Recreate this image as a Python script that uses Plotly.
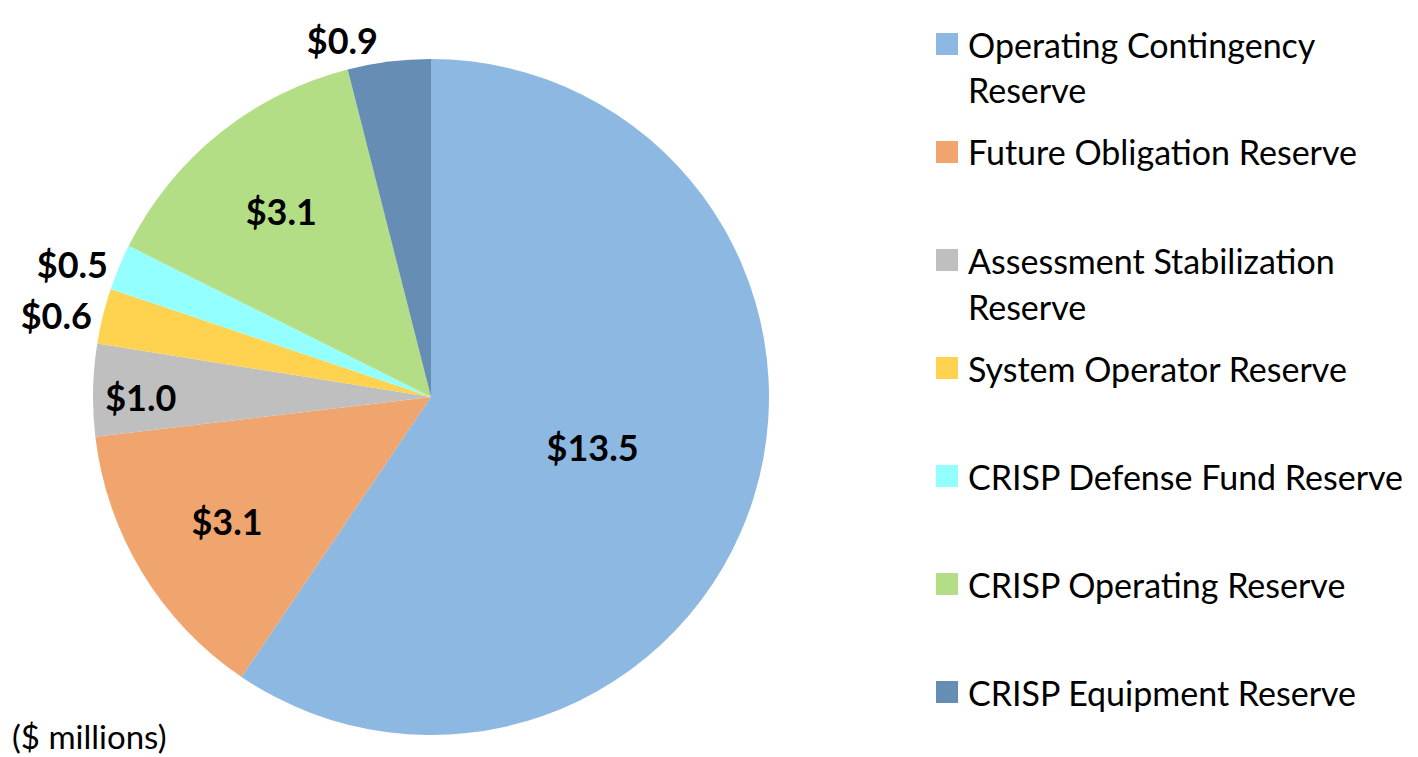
import plotly.graph_objects as go

categories = [
    "Operating Contingency Reserve",
    "Future Obligation Reserve",
    "Assessment Stabilization Reserve",
    "System Operator Reserve",
    "CRISP Defense Fund Reserve",
    "CRISP Operating Reserve",
    "CRISP Equipment Reserve",
]
values = [13.5, 3.1, 1.0, 0.6, 0.5, 3.1, 0.9]
colors = ["#8DB8E2", "#F0A46E", "#BFBFBF", "#FFD24F", "#94FFFF", "#B3DE86", "#668DB3"]
text_positions = ["inside", "inside", "inside", "outside", "outside", "inside", "outside"]
legend_lines = [
    ["Operating Contingency", "Reserve"],
    ["Future Obligation Reserve"],
    ["Assessment Stabilization", "Reserve"],
    ["System Operator Reserve"],
    ["CRISP Defense Fund Reserve"],
    ["CRISP Operating Reserve"],
    ["CRISP Equipment Reserve"],
]
legend_y = [44, 152, 260, 368, 476, 584, 692]  # pixel rows of first line

OFF = 8  # page body margin
W, H = 1418 - OFF, 757 - OFF
FONT = "Lato"


def px(x):
    return (x - OFF) / W


def py(y):
    return 1 - (y - OFF) / H


cx, cy, r = 431, 397, 338
fig = go.Figure(go.Pie(
    labels=categories,
    values=values,
    marker=dict(colors=colors, line=dict(width=0)),
    sort=False,
    direction="clockwise",
    rotation=0,
    texttemplate="<b>$%{value:.1f}</b>",
    textposition=text_positions,
    insidetextorientation="horizontal",
    textfont=dict(family=FONT, size=36, color="black"),
    showlegend=False,
    domain=dict(x=[px(cx - r), px(cx + r)], y=[py(cy + r), py(cy - r)]),
    automargin=False,
))

shapes = []
annotations = []
for lines, y0, col in zip(legend_lines, legend_y, colors):
    shapes.append(dict(type="rect", xref="paper", yref="paper",
                       x0=px(936), x1=px(958), y0=py(y0 + 11), y1=py(y0 - 11),
                       fillcolor=col, line=dict(width=0)))
    for i, line in enumerate(lines):
        yy = y0 + i * 46
        annotations.append(dict(text=line, xref="paper", yref="paper", x=px(966), y=py(yy),
                                xanchor="left", yanchor="middle", showarrow=False,
                                font=dict(family=FONT, size=34, color="black")))
annotations.append(dict(text="($ millions)", xref="paper", yref="paper", x=px(10), y=py(736),
                        xanchor="left", yanchor="middle", showarrow=False,
                        font=dict(family=FONT, size=33, color="black")))

fig.update_layout(
    width=W, height=H,
    margin=dict(l=0, r=0, t=0, b=0),
    paper_bgcolor="white",
    plot_bgcolor="white",
    shapes=shapes,
    annotations=annotations,
)
fig.write_html("out.html")
